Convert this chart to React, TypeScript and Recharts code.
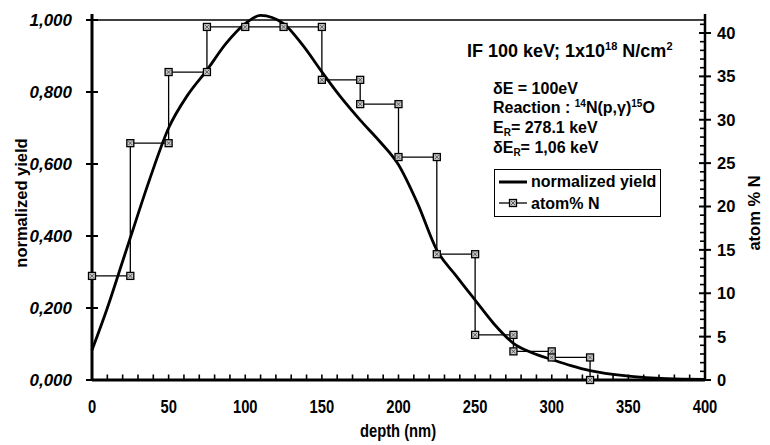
import React from "react";
import { LineChart, Line, XAxis, YAxis, ReferenceLine, Legend } from "recharts";

// normalized yield curve (depth in nm)
const yieldDepth = [0, 10, 20, 25, 37.5, 50, 62.5, 75, 87.5, 100, 110, 125, 137.5, 150, 162.5, 175, 187.5, 200, 212.5, 225, 237.5, 250, 262.5, 275, 287.5, 300, 312.5, 325, 350, 375, 400];
const yieldValues = [0.083, 0.2, 0.33, 0.395, 0.556, 0.7, 0.792, 0.861, 0.935, 0.99, 1.013, 0.99, 0.93, 0.856, 0.785, 0.722, 0.664, 0.598, 0.49, 0.361, 0.29, 0.222, 0.155, 0.102, 0.075, 0.057, 0.04, 0.026, 0.011, 0.004, 0.002];

// atom% N step profile (corners of the histogram)
const stepDepth = [0, 25, 25, 50, 50, 75, 75, 100, 125, 150, 150, 175, 175, 200, 200, 225, 225, 250, 250, 275, 275, 300, 300, 325, 325];
const stepAtom = [12, 12, 27.3, 27.3, 35.5, 35.5, 40.7, 40.7, 40.7, 40.7, 34.6, 34.6, 31.8, 31.8, 25.7, 25.7, 14.5, 14.5, 5.2, 5.2, 3.3, 3.3, 2.6, 2.6, 0];

const leftTicks = [0, 0.2, 0.4, 0.6, 0.8, 1.0];
const depthLabels = [0, 50, 100, 150, 200, 250, 300, 350, 400];
const atomLabels = [0, 5, 10, 15, 20, 25, 30, 35, 40];

const depthTicks: number[] = [];
for (let d = 0; d <= 400; d += 10) depthTicks.push(d);
const atomTicks: number[] = [];
for (let a = 0; a <= 41; a += 1) atomTicks.push(a);

const yieldData = yieldDepth.map((depth, i) => ({ depth, yield: yieldValues[i] }));
const stepData = stepDepth.map((depth, i) => ({ depth, atom: stepAtom[i] }));

const SANS = "'Liberation Sans', Arial, Helvetica, sans-serif";

const fmtLeft = (v: number) => v.toFixed(3).replace(".", ",");

const LeftTick = (props: any) => {
  const { x, y, payload } = props;
  const ax = x + 20;
  return (
    <g>
      <line x1={ax - 6} x2={ax + 6} y1={y} y2={y} stroke="#000" strokeWidth={2} />
      <text x={x} y={y} dy="0.36em" textAnchor="end" fontFamily={SANS} fontSize={17} fontWeight="bold" fontStyle="italic" fill="#000">
        {fmtLeft(payload.value)}
      </text>
    </g>
  );
};

const RightTick = (props: any) => {
  const { x, y, payload } = props;
  const ax = x - 12;
  const major = atomLabels.includes(payload.value);
  return (
    <g>
      {major ? (
        <line x1={ax - 6} x2={ax + 6} y1={y} y2={y} stroke="#000" strokeWidth={2} />
      ) : (
        <line x1={ax - 5} x2={ax} y1={y} y2={y} stroke="#000" strokeWidth={1.6} />
      )}
      {major && (
        <text x={x} y={y} dy="0.36em" textAnchor="start" fontFamily={SANS} fontSize={16.5} fontWeight="bold" fill="#000">
          {payload.value}
        </text>
      )}
    </g>
  );
};

const BottomTick = (props: any) => {
  const { x, y, payload } = props;
  const ay = y - 20;
  const major = depthLabels.includes(payload.value);
  return (
    <g>
      <line x1={x} x2={x} y1={ay} y2={ay - 5.5} stroke="#000" strokeWidth={1.6} />
      {major && (
        <text
          transform={`translate(${x},${y}) scale(0.82,1)`}
          dy="0.72em"
          textAnchor="middle"
          fontFamily={SANS}
          fontSize={18}
          fontWeight="bold"
          fill="#000"
        >
          {payload.value}
        </text>
      )}
    </g>
  );
};

const SquareDot = (props: any) => {
  const { cx, cy, index } = props;
  if (cx == null || cy == null) return <g key={index} />;
  return (
    <g key={index}>
      <rect x={cx - 3.5} y={cy - 3.5} width={7} height={7} fill="#c8c8c8" stroke="#000" strokeWidth={1.3} />
      <line x1={cx - 2} y1={cy - 2} x2={cx + 2} y2={cy + 2} stroke="#444" strokeWidth={0.8} />
      <line x1={cx - 2} y1={cy + 2} x2={cx + 2} y2={cy - 2} stroke="#444" strokeWidth={0.8} />
    </g>
  );
};

const legendOrder = ["yield", "atom"];

const LegendBox = (props: any) => {
  const items = [...(props.payload || [])].sort(
    (a: any, b: any) => legendOrder.indexOf(a.dataKey) - legendOrder.indexOf(b.dataKey)
  );
  return (
    <div
      style={{
        border: "1.3px solid #000",
        background: "#fff",
        padding: "1px 4px 2px 4px",
        fontFamily: SANS,
        fontWeight: "bold",
        fontSize: 16,
        lineHeight: "21.5px",
        color: "#000",
        whiteSpace: "nowrap",
      }}
    >
      {items.map((entry: any) => (
        <div key={entry.dataKey} style={{ display: "flex", alignItems: "center" }}>
          <svg width={28} height={12} style={{ marginRight: 4 }}>
            {entry.dataKey === "yield" ? (
              <line x1={0} x2={28} y1={6} y2={6} stroke="#000" strokeWidth={3} />
            ) : (
              <g>
                <line x1={0} x2={28} y1={6} y2={6} stroke="#000" strokeWidth={1.3} />
                <SquareDot cx={14} cy={6} index={0} />
              </g>
            )}
          </svg>
          <span>{entry.value}</span>
        </div>
      ))}
    </div>
  );
};

export default function App() {
  return (
    <div style={{ position: "relative", width: 770, height: 445, background: "#fff" }}>
      <style>{`body{margin:0;background:#fff}`}</style>
      <LineChart width={770} height={445} margin={{ top: 14, right: 8, bottom: 25, left: 12 }}>
        <XAxis
          dataKey="depth"
          type="number"
          domain={[0, 400]}
          ticks={depthTicks}
          interval={0}
          height={40}
          tickSize={0}
          tickMargin={20}
          tickLine={false}
          axisLine={{ stroke: "#000", strokeWidth: 3 }}
          tick={BottomTick}
        />
        <YAxis
          yAxisId="left"
          orientation="left"
          type="number"
          domain={[0, 1.0167]}
          ticks={leftTicks}
          interval={0}
          width={80}
          tickSize={0}
          tickMargin={20}
          tickLine={false}
          axisLine={{ stroke: "#000", strokeWidth: 3 }}
          tick={LeftTick}
        />
        <YAxis
          yAxisId="right"
          orientation="right"
          type="number"
          domain={[0, 42.19]}
          ticks={atomTicks}
          interval={0}
          width={57}
          tickSize={0}
          tickMargin={12}
          tickLine={false}
          axisLine={{ stroke: "#000", strokeWidth: 2.5 }}
          tick={RightTick}
        />
        <ReferenceLine yAxisId="left" y={1} stroke="#000" strokeWidth={1.5} />
        <Legend
          layout="vertical"
          align="center"
          verticalAlign="middle"
          wrapperStyle={{ left: 494, top: 169, width: "auto", height: "auto" }}
          content={LegendBox}
        />
        <Line
          yAxisId="right"
          data={stepData}
          dataKey="atom"
          name="atom% N"
          type="linear"
          stroke="#000"
          strokeWidth={1.3}
          dot={SquareDot}
          activeDot={false}
          isAnimationActive={false}
        />
        <Line
          yAxisId="left"
          data={yieldData}
          dataKey="yield"
          name="normalized yield"
          type="monotone"
          stroke="#000"
          strokeWidth={2.8}
          dot={false}
          activeDot={false}
          isAnimationActive={false}
        />
      </LineChart>
      <svg
        width={770}
        height={445}
        style={{ position: "absolute", left: 0, top: 0, pointerEvents: "none" }}
        fontFamily={SANS}
        fontWeight="bold"
        fill="#000"
      >
        <text x={467} y={57} fontSize={18}>
          IF 100 keV; 1x10<tspan fontSize={11} dy={-7}>18</tspan>
          <tspan dy={7}> N/cm</tspan>
          <tspan fontSize={11} dy={-7}>2</tspan>
        </text>
        <text x={493} y={94} fontSize={16}>δE = 100eV</text>
        <text x={493} y={113} fontSize={16}>
          Reaction : <tspan fontSize={10} dy={-6}>14</tspan>
          <tspan dy={6}>N(p,γ)</tspan>
          <tspan fontSize={10} dy={-6}>15</tspan>
          <tspan dy={6}>O</tspan>
        </text>
        <text x={493} y={132.5} fontSize={16}>
          E<tspan fontSize={10} dy={3}>R</tspan>
          <tspan dy={-3}>= 278.1 keV</tspan>
        </text>
        <text x={493} y={153} fontSize={16}>
          δE<tspan fontSize={10} dy={3}>R</tspan>
          <tspan dy={-3}>= 1,06 keV</tspan>
        </text>
        <text transform="translate(27,203) rotate(-90)" textAnchor="middle" fontSize={16.5}>
          normalized yield
        </text>
        <text transform="translate(760,213) rotate(-90)" textAnchor="middle" fontSize={16.5}>
          atom % N
        </text>
        <text transform="translate(398,437) scale(0.82,1)" textAnchor="middle" fontSize={18}>
          depth (nm)
        </text>
      </svg>
    </div>
  );
}
